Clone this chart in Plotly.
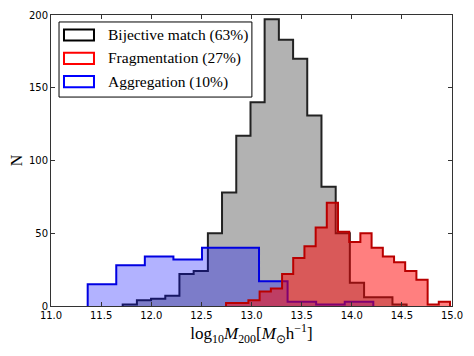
import plotly.graph_objects as go

# bin edges and counts
bij_edges = [11.715, 11.857, 11.998, 12.140, 12.281, 12.423, 12.565, 12.706, 12.848, 12.990,
             13.131, 13.273, 13.415, 13.556, 13.698, 13.840, 13.981, 14.123, 14.264, 14.406, 14.547]
bij_counts = [1, 4, 5, 7, 22, 24, 50, 78, 117, 140,
              197, 183, 170, 131, 82, 50, 16, 6, 6, 1]

agg_edges = [11.366, 11.651, 11.936, 12.221, 12.506, 12.790, 13.075, 13.360, 13.645, 13.930, 14.215]
agg_counts = [15, 28, 34, 32, 40, 40, 17, 3, 1, 3]

frag_edges = [12.746, 12.858, 12.969, 13.081, 13.193, 13.305, 13.416, 13.528, 13.640, 13.751,
              13.863, 13.975, 14.086, 14.198, 14.310, 14.422, 14.533, 14.645, 14.757, 14.868, 14.980]
frag_counts = [2, 2, 4, 10, 12, 22, 33, 41, 54, 71,
               51, 44, 50, 40, 34, 30, 24, 18, 1, 3]

labels = ["Bijective match (63%)", "Fragmentation (27%)", "Aggregation (10%)"]
label_colors = ["#000000", "#ff0000", "#0000ff"]

x_ticks = [11.0, 11.5, 12.0, 12.5, 13.0, 13.5, 14.0, 14.5, 15.0]
y_ticks = [0, 50, 100, 150, 200]

SERIF = "Liberation Serif"
SANS = "DejaVu Sans"


def step_xy(edges, counts):
    """Outline of a stepfilled histogram (drawn with line_shape='hv')."""
    xs = [edges[0]] + list(edges) + [edges[-1]]
    ys = [0] + list(counts) + [counts[-1], 0]
    return xs, ys


fig = go.Figure()

# drawing order: bijective, aggregation, fragmentation (red on top)
hists = [
    (bij_edges, bij_counts, "rgba(0,0,0,0.3)", "#222222"),
    (agg_edges, agg_counts, "rgba(0,0,255,0.3)", "rgb(0,0,225)"),
    (frag_edges, frag_counts, "rgba(255,0,0,0.5)", "rgb(185,0,0)"),
]
for edges, counts, fillc, linec in hists:
    xs, ys = step_xy(edges, counts)
    fig.add_trace(go.Scatter(
        x=xs, y=ys, mode="lines", line=dict(color=linec, width=2, shape="hv"),
        fill="tozeroy", fillcolor=fillc, showlegend=False, hoverinfo="skip",
    ))

# legend drawn by hand: matplotlib-style empty boxes with coloured edges
fig.add_shape(type="rect", xref="paper", yref="paper", x0=0.020, x1=0.501, y0=0.718, y1=0.976,
              line=dict(color="black", width=1), fillcolor="white", layer="above")
icon_rows = [(0.912, 0.950), (0.832, 0.870), (0.752, 0.790)]
for (y0, y1), name, col in zip(icon_rows, labels, label_colors):
    fig.add_shape(type="rect", xref="paper", yref="paper", x0=0.0324, x1=0.1072, y0=y0, y1=y1,
                  line=dict(color=col, width=2), fillcolor="white", layer="above")
    fig.add_annotation(xref="paper", yref="paper", x=0.138, y=(y0 + y1) / 2,
                       xanchor="left", yanchor="middle", showarrow=False, text=name,
                       font=dict(family=SERIF, size=15.5, color="black"))

axis_common = dict(
    showline=True, linecolor="#333333", linewidth=1, mirror="allticks",
    ticks="inside", ticklen=4, tickcolor="#333333", tickwidth=1,
    showgrid=False, zeroline=False, automargin=False,
    tickfont=dict(family=SANS, size=10, color="black"),
)

fig.update_xaxes(
    range=[11, 15], tickvals=x_ticks, ticktext=[f"{v:.1f}" for v in x_ticks],
    title=dict(text="log<sub>10</sub><i>M</i><sub>200</sub>[<i>M</i><sub>⊙</sub>h<sup>−1</sup>]",
               font=dict(family=SERIF, size=17, color="black"), standoff=7),
    **axis_common,
)
fig.update_yaxes(
    range=[0, 200], tickvals=y_ticks,
    title=dict(text="N", font=dict(family=SERIF, size=16, color="black"), standoff=3),
    **axis_common,
)

# page body has an 8px margin, so the figure is 8px smaller than the window
fig.update_layout(
    width=466, height=348,
    margin=dict(l=43, r=22, t=7, b=50, autoexpand=False),
    plot_bgcolor="white", paper_bgcolor="white",
    showlegend=False,
)

fig.write_html("out.html")
